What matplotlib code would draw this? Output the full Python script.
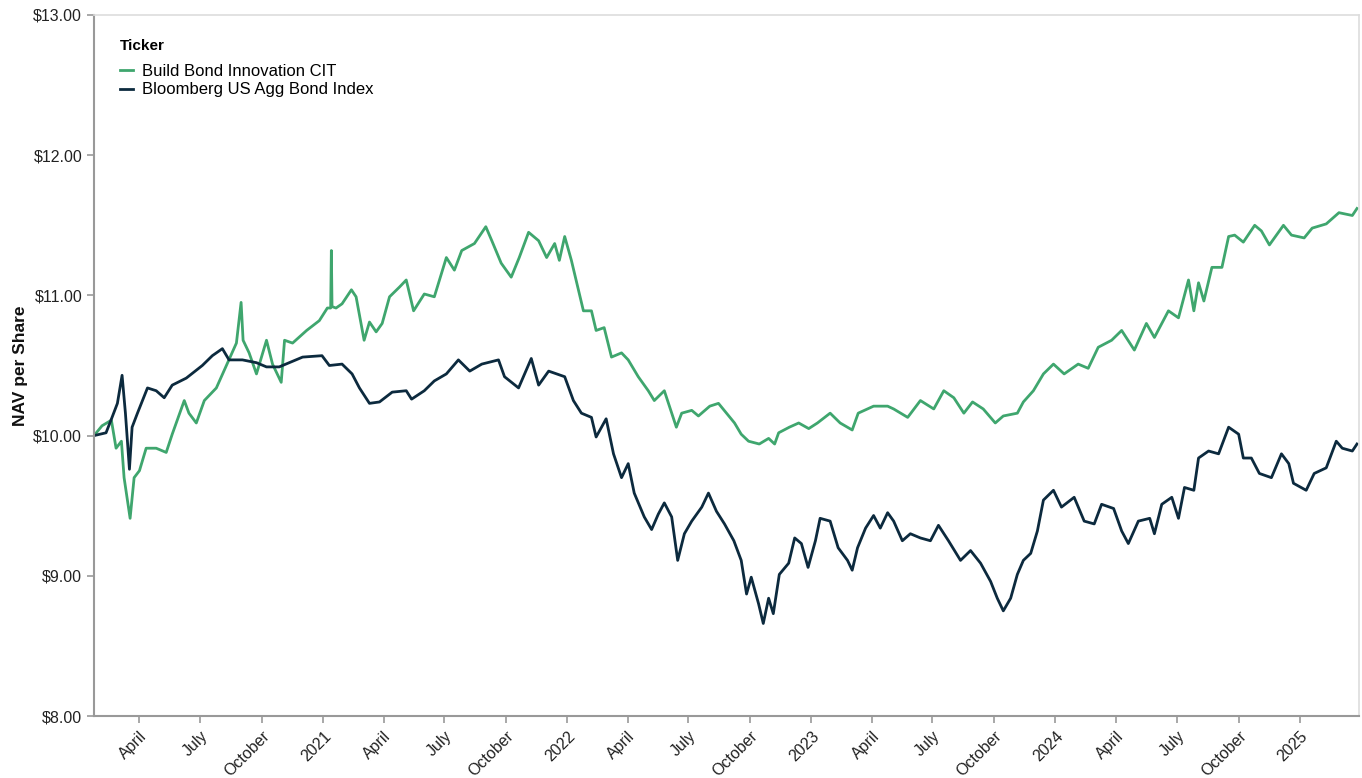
import matplotlib
matplotlib.use("Agg")
import matplotlib.pyplot as plt
import matplotlib.dates as mdates
import pandas as pd

plt.rcParams['font.family'] = ['Liberation Sans', 'DejaVu Sans']

# values
green_dates = [
    "2020-01-24", "2020-02-05", "2020-02-19", "2020-02-26", "2020-03-05", "2020-03-09",
    "2020-03-18", "2020-03-24", "2020-04-01", "2020-04-11", "2020-04-26", "2020-05-11",
    "2020-05-20", "2020-06-07", "2020-06-14", "2020-06-25", "2020-07-07", "2020-07-25",
    "2020-08-09", "2020-08-24", "2020-08-31", "2020-09-03", "2020-09-12", "2020-09-23",
    "2020-10-08", "2020-10-17", "2020-10-30", "2020-11-04", "2020-11-16", "2020-12-07",
    "2020-12-26", "2021-01-07", "2021-01-12", "2021-01-13", "2021-01-14", "2021-01-20",
    "2021-01-29", "2021-02-12", "2021-02-19", "2021-03-03", "2021-03-11", "2021-03-21",
    "2021-03-30", "2021-04-10", "2021-04-25", "2021-05-05", "2021-05-16", "2021-06-01",
    "2021-06-16", "2021-07-04", "2021-07-16", "2021-07-27", "2021-08-15", "2021-09-01",
    "2021-09-10", "2021-09-24", "2021-10-09", "2021-10-21", "2021-11-04", "2021-11-19",
    "2021-12-01", "2021-12-13", "2021-12-20", "2021-12-28", "2022-01-07", "2022-01-14",
    "2022-01-25", "2022-02-06", "2022-02-13", "2022-02-25", "2022-03-08", "2022-03-23",
    "2022-04-02", "2022-04-17", "2022-05-02", "2022-05-11", "2022-05-26", "2022-06-13",
    "2022-06-21", "2022-07-06", "2022-07-16", "2022-08-02", "2022-08-15", "2022-08-27",
    "2022-09-08", "2022-09-18", "2022-09-29", "2022-10-15", "2022-10-29", "2022-11-07",
    "2022-11-13", "2022-11-29", "2022-12-13", "2022-12-28", "2023-01-10", "2023-01-29",
    "2023-02-13", "2023-03-03", "2023-03-12", "2023-04-04", "2023-04-25", "2023-05-04",
    "2023-05-25", "2023-06-13", "2023-07-03", "2023-07-18", "2023-08-02", "2023-08-17",
    "2023-08-30", "2023-09-15", "2023-10-03", "2023-10-15", "2023-11-05", "2023-11-14",
    "2023-11-29", "2023-12-14", "2023-12-29", "2024-01-14", "2024-02-04", "2024-02-19",
    "2024-03-05", "2024-03-25", "2024-04-09", "2024-04-28", "2024-05-16", "2024-05-28",
    "2024-06-18", "2024-07-03", "2024-07-18", "2024-07-26", "2024-08-02", "2024-08-10",
    "2024-08-22", "2024-09-06", "2024-09-16", "2024-09-25", "2024-10-08", "2024-10-25",
    "2024-11-04", "2024-11-16", "2024-12-07", "2024-12-19", "2025-01-07", "2025-01-19",
    "2025-02-09", "2025-02-28", "2025-03-20", "2025-03-27",
]
green_vals = [
    10.00, 10.07, 10.11, 9.91, 9.96, 9.70,
    9.41, 9.70, 9.75, 9.91, 9.91, 9.88,
    10.01, 10.25, 10.16, 10.09, 10.25, 10.34,
    10.50, 10.66, 10.95, 10.68, 10.59, 10.44,
    10.68, 10.51, 10.38, 10.68, 10.66, 10.75,
    10.82, 10.91, 10.91, 11.32, 10.92, 10.91,
    10.94, 11.04, 10.99, 10.68, 10.81, 10.74,
    10.80, 10.99, 11.06, 11.11, 10.89, 11.01,
    10.99, 11.27, 11.18, 11.32, 11.37, 11.49,
    11.39, 11.23, 11.13, 11.27, 11.45, 11.39,
    11.27, 11.37, 11.25, 11.42, 11.25, 11.11,
    10.89, 10.89, 10.75, 10.77, 10.56, 10.59,
    10.54, 10.42, 10.32, 10.25, 10.32, 10.06,
    10.16, 10.18, 10.14, 10.21, 10.23, 10.16,
    10.09, 10.01, 9.96, 9.94, 9.98, 9.94,
    10.02, 10.06, 10.09, 10.05, 10.09, 10.16,
    10.09, 10.04, 10.16, 10.21, 10.21, 10.19,
    10.13, 10.25, 10.19, 10.32, 10.27, 10.16,
    10.24, 10.19, 10.09, 10.14, 10.16, 10.24,
    10.32, 10.44, 10.51, 10.44, 10.51, 10.48,
    10.63, 10.68, 10.75, 10.61, 10.80, 10.70,
    10.89, 10.84, 11.11, 10.89, 11.09, 10.96,
    11.20, 11.20, 11.42, 11.43, 11.38, 11.50,
    11.46, 11.36, 11.50, 11.43, 11.41, 11.48,
    11.51, 11.59, 11.57, 11.62,
]

navy_dates = [
    "2020-01-24", "2020-02-11", "2020-02-20", "2020-02-28", "2020-03-06", "2020-03-11",
    "2020-03-17", "2020-03-21", "2020-03-29", "2020-04-13", "2020-04-26", "2020-05-08",
    "2020-05-20", "2020-06-10", "2020-07-04", "2020-07-19", "2020-08-03", "2020-08-13",
    "2020-09-02", "2020-09-23", "2020-10-08", "2020-10-27", "2020-11-11", "2020-12-01",
    "2020-12-30", "2021-01-10", "2021-01-29", "2021-02-13", "2021-02-24", "2021-03-11",
    "2021-03-26", "2021-04-14", "2021-05-05", "2021-05-13", "2021-06-01", "2021-06-16",
    "2021-07-04", "2021-07-22", "2021-08-08", "2021-08-26", "2021-09-20", "2021-09-29",
    "2021-10-20", "2021-11-08", "2021-11-19", "2021-12-04", "2021-12-28", "2022-01-10",
    "2022-01-22", "2022-02-06", "2022-02-13", "2022-02-28", "2022-03-11", "2022-03-23",
    "2022-04-02", "2022-04-11", "2022-04-26", "2022-05-07", "2022-05-17", "2022-05-26",
    "2022-06-06", "2022-06-15", "2022-06-25", "2022-07-06", "2022-07-21", "2022-07-31",
    "2022-08-12", "2022-08-24", "2022-09-07", "2022-09-18", "2022-09-26", "2022-10-03",
    "2022-10-14", "2022-10-21", "2022-10-29", "2022-11-05", "2022-11-14", "2022-11-28",
    "2022-12-07", "2022-12-17", "2022-12-27", "2023-01-07", "2023-01-14", "2023-01-29",
    "2023-02-10", "2023-02-24", "2023-03-03", "2023-03-11", "2023-03-23", "2023-04-04",
    "2023-04-14", "2023-04-25", "2023-05-04", "2023-05-17", "2023-05-29", "2023-06-13",
    "2023-06-28", "2023-07-10", "2023-07-25", "2023-08-12", "2023-08-27", "2023-09-11",
    "2023-09-26", "2023-10-06", "2023-10-15", "2023-10-26", "2023-11-05", "2023-11-14",
    "2023-11-25", "2023-12-05", "2023-12-14", "2023-12-29", "2024-01-10", "2024-01-29",
    "2024-02-13", "2024-02-28", "2024-03-10", "2024-03-28", "2024-04-09", "2024-04-19",
    "2024-05-04", "2024-05-21", "2024-05-28", "2024-06-08", "2024-06-23", "2024-07-03",
    "2024-07-12", "2024-07-26", "2024-08-02", "2024-08-17", "2024-09-01", "2024-09-16",
    "2024-10-01", "2024-10-08", "2024-10-20", "2024-11-01", "2024-11-19", "2024-12-04",
    "2024-12-15", "2024-12-22", "2025-01-10", "2025-01-22", "2025-02-09", "2025-02-24",
    "2025-03-05", "2025-03-20", "2025-03-27",
]
navy_vals = [
    10.00, 10.02, 10.13, 10.23, 10.43, 10.16,
    9.76, 10.06, 10.16, 10.34, 10.32, 10.27,
    10.36, 10.41, 10.50, 10.57, 10.62, 10.54,
    10.54, 10.52, 10.49, 10.49, 10.52, 10.56,
    10.57, 10.50, 10.51, 10.44, 10.34, 10.23,
    10.24, 10.31, 10.32, 10.26, 10.32, 10.39,
    10.44, 10.54, 10.46, 10.51, 10.54, 10.42,
    10.34, 10.55, 10.36, 10.46, 10.42, 10.25,
    10.16, 10.13, 9.99, 10.12, 9.87, 9.70,
    9.80, 9.59, 9.42, 9.33, 9.44, 9.52,
    9.42, 9.11, 9.30, 9.39, 9.49, 9.59,
    9.46, 9.37, 9.25, 9.11, 8.87, 8.99,
    8.80, 8.66, 8.84, 8.73, 9.01, 9.09,
    9.27, 9.23, 9.06, 9.25, 9.41, 9.39,
    9.20, 9.11, 9.04, 9.20, 9.34, 9.43,
    9.34, 9.45, 9.39, 9.25, 9.30, 9.27,
    9.25, 9.36, 9.25, 9.11, 9.18, 9.09,
    8.96, 8.84, 8.75, 8.84, 9.01, 9.11,
    9.16, 9.32, 9.54, 9.61, 9.49, 9.56,
    9.39, 9.37, 9.51, 9.48, 9.32, 9.23,
    9.39, 9.41, 9.30, 9.51, 9.56, 9.41,
    9.63, 9.61, 9.84, 9.89, 9.87, 10.06,
    10.01, 9.84, 9.84, 9.73, 9.70, 9.87,
    9.80, 9.66, 9.61, 9.73, 9.77, 9.96,
    9.91, 9.89, 9.94,
]

series_names = ["Build Bond Innovation CIT", "Bloomberg US Agg Bond Index"]
series_colors = ["#3fa66e", "#0c2a3e"]
y_ticks = [8, 9, 10, 11, 12, 13]

green = pd.Series(green_vals, index=pd.to_datetime(green_dates))
navy = pd.Series(navy_vals, index=pd.to_datetime(navy_dates))

W, H = 1362, 778
fig = plt.figure(figsize=(W / 100, H / 100), dpi=100)
ax = fig.add_axes([94 / W, 1 - 716 / H, (1359 - 94) / W, (716 - 15) / H])

ax.plot(green.index, green.values, color=series_colors[0], lw=2.0, label=series_names[0])
ax.plot(navy.index, navy.values, color=series_colors[1], lw=2.0, label=series_names[1])

ax.set_xlim(green.index[0], green.index[-1] + pd.Timedelta(days=3))
ax.set_ylim(8, 13)
ax.set_yticks(y_ticks)
ax.set_yticklabels([f"${v:.2f}" for v in y_ticks])

ax.xaxis.set_major_locator(mdates.MonthLocator(bymonth=(1, 4, 7, 10)))


def month_fmt(x, pos=None):
    d = mdates.num2date(x)
    return str(d.year) if d.month == 1 else d.strftime("%B")


ax.xaxis.set_major_formatter(plt.FuncFormatter(month_fmt))
for lbl in ax.get_xticklabels():
    lbl.set_rotation(45)
    lbl.set_ha("right")
    lbl.set_rotation_mode("anchor")

ax.tick_params(axis="both", labelsize=11.5, colors="#999999", labelcolor="#222222",
               length=5, width=1.2)
ax.tick_params(axis="x", pad=4)
for side in ("left", "bottom"):
    ax.spines[side].set_color("#999999")
    ax.spines[side].set_linewidth(1.5)
for side in ("top", "right"):
    ax.spines[side].set_color("#dddddd")
    ax.spines[side].set_linewidth(1.2)

ax.set_ylabel("NAV per Share", fontsize=12.5, fontweight="bold", color="#111111", labelpad=4)

# legend: title drawn separately so the gap matches the reference
fig.text(120 / W, 1 - 46 / H, "Ticker", fontsize=11, fontweight="bold", va="center", ha="left")
ax.legend(loc="upper left", bbox_to_anchor=(120 / W, 1 - 64 / H), bbox_transform=fig.transFigure,
          frameon=False, fontsize=12, handlelength=0.8, handletextpad=0.55,
          labelspacing=0.2, borderpad=0, borderaxespad=0)

fig.savefig("out.png", dpi=100)
